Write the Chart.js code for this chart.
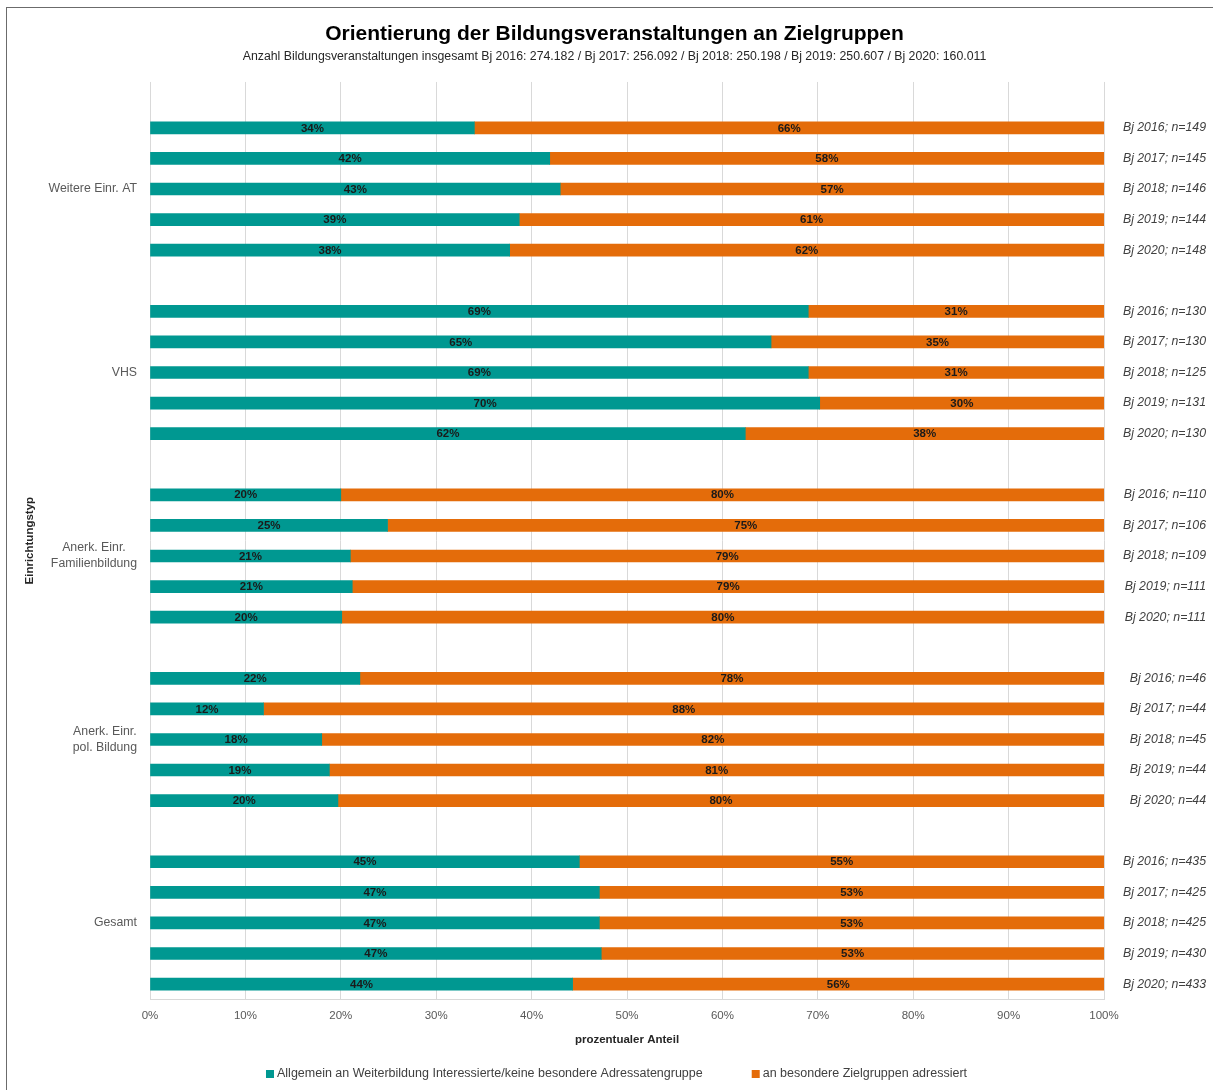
<!DOCTYPE html>
<html lang="de">
<head>
<meta charset="UTF-8">
<title>Orientierung der Bildungsveranstaltungen an Zielgruppen</title>
<script src="https://cdn.jsdelivr.net/npm/chart.js"></script>
<style>
    html, body { margin: 0; padding: 0; background: #fff; overflow: hidden; }
    .frame { position: absolute; left: 6px; top: 7px; width: 1240px; height: 1120px; border: 1px solid #6b6b6b; box-sizing: border-box; }
    #zielgruppenChart { position: absolute; left: 6px; top: 0; }
</style>
</head>
<body>
<div class="frame"></div>
<canvas id="zielgruppenChart" width="1213" height="1090"></canvas>

<script>
// Einrichtungstypen (mehrzeilige Beschriftung als Array)
const gruppen = [
    'Weitere Einr. AT',
    'VHS',
    ['Anerk. Einr.', 'Familienbildung'],
    ['Anerk. Einr.', 'pol. Bildung'],
    'Gesamt'
];
const jahre = ['Bj 2016', 'Bj 2017', 'Bj 2018', 'Bj 2019', 'Bj 2020'];

// Anteil "Allgemein an Weiterbildung Interessierte" in %, je Gruppe 2016..2020
const allgemein = [
    [34.0, 41.9, 43.0, 38.7, 37.7],
    [69.0, 65.1, 69.0, 70.2, 62.4],
    [20.0, 24.9, 21.0, 21.2, 20.1],
    [22.0, 11.9, 18.0, 18.8, 19.7],
    [45.0, 47.1, 47.1, 47.3, 44.3]
];
// Anteil "an besondere Zielgruppen adressiert" in %
const zielgruppen = [
    [66.0, 58.1, 57.0, 61.3, 62.3],
    [31.0, 34.9, 31.0, 29.8, 37.6],
    [80.0, 75.1, 79.0, 78.8, 79.9],
    [78.0, 88.1, 82.0, 81.2, 80.3],
    [55.0, 52.9, 52.9, 52.7, 55.7]
];
// Anzahl Einrichtungen (n)
const anzahlN = [
    [149, 145, 146, 144, 148],
    [130, 130, 125, 131, 130],
    [110, 106, 109, 111, 111],
    [46, 44, 45, 44, 44],
    [435, 425, 425, 430, 433]
];
const prozentTicks = ['0%', '10%', '20%', '30%', '40%', '50%', '60%', '70%', '80%', '90%', '100%'];
const legendeTexte = [
    'Allgemein an Weiterbildung Interessierte/keine besondere Adressatengruppe',
    'an besondere Zielgruppen adressiert'
];

const FONT = "'Liberation Sans', Arial, sans-serif";
const TEAL = '#009891';
const ORANGE = '#E46C0A';

// je Gruppe eine Leerzeile davor, dann die 5 Jahre
const zeilen = [];
gruppen.forEach((g, gi) => {
    zeilen.push(null);
    jahre.forEach((j, ji) => zeilen.push({ gi: gi, ji: ji }));
});
const kategorien = zeilen.map(z => z ? jahre[z.ji] + '; n=' + anzahlN[z.gi][z.ji] : '');
const datenAllgemein = zeilen.map(z => z ? allgemein[z.gi][z.ji] : null);
const datenZiel = zeilen.map(z => z ? zielgruppen[z.gi][z.ji] : null);

// Gruppennamen links (zentriert auf den mittleren Balken) und Jahr/n rechts
const seitenLabels = {
    id: 'seitenLabels',
    afterDraw(chart) {
        const ctx = chart.ctx;
        const y = chart.scales.y;
        const area = chart.chartArea;
        ctx.save();
        ctx.textBaseline = 'middle';

        ctx.font = '12.3px ' + FONT;
        ctx.fillStyle = '#595959';
        ctx.textAlign = 'center';
        gruppen.forEach((g, gi) => {
            const zeilenText = Array.isArray(g) ? g : [g];
            const breite = Math.max(...zeilenText.map(t => ctx.measureText(t).width));
            const cx = area.left - 13 - breite / 2;
            const mitte = y.getPixelForValue(gi * 6 + 3);
            zeilenText.forEach((t, k) => {
                ctx.fillText(t, cx, mitte + (k - (zeilenText.length - 1) / 2) * 16);
            });
        });

        ctx.font = 'italic 12.3px ' + FONT;
        ctx.fillStyle = '#404040';
        ctx.textAlign = 'right';
        kategorien.forEach((t, i) => {
            if (!t) return;
            ctx.fillText(t, area.right + 102, y.getPixelForValue(i));
        });
        ctx.restore();
    }
};

// Prozentwerte in den Balken
const balkenWerte = {
    id: 'balkenWerte',
    afterDatasetsDraw(chart) {
        const ctx = chart.ctx;
        ctx.save();
        ctx.font = 'bold 11.5px ' + FONT;
        ctx.fillStyle = '#1a1a1a';
        ctx.textAlign = 'center';
        ctx.textBaseline = 'middle';
        chart.data.datasets.forEach((ds, di) => {
            const meta = chart.getDatasetMeta(di);
            meta.data.forEach((bar, i) => {
                const v = ds.data[i];
                if (v === null) return;
                ctx.fillText(Math.round(v) + '%', (bar.x + bar.base) / 2, bar.y + 0.5);
            });
        });
        ctx.restore();
    }
};

// Legende unten
const legendeUnten = {
    id: 'legendeUnten',
    afterDraw(chart) {
        const ctx = chart.ctx;
        ctx.save();
        ctx.font = '12.5px ' + FONT;
        ctx.textBaseline = 'middle';
        const box = 8, gap = 3, abstand = 49;
        const breiten = legendeTexte.map(t => ctx.measureText(t).width);
        const gesamt = breiten.reduce((a, b) => a + b, 0) + legendeTexte.length * (box + gap) + abstand;
        let x = chart.width / 2 - gesamt / 2 + 4;
        const y = 1074;
        legendeTexte.forEach((t, i) => {
            ctx.fillStyle = chart.data.datasets[i].backgroundColor;
            ctx.fillRect(x, y - box / 2, box, box);
            x += box + gap;
            ctx.fillStyle = '#404040';
            ctx.textAlign = 'left';
            ctx.fillText(t, x, y);
            x += breiten[i] + abstand;
        });
        ctx.restore();
    }
};

Chart.defaults.font.family = FONT;

new Chart(document.getElementById('zielgruppenChart').getContext('2d'), {
    type: 'bar',
    data: {
        labels: kategorien,
        datasets: [
            {
                label: legendeTexte[0],
                data: datenAllgemein,
                backgroundColor: TEAL,
                barThickness: 12
            },
            {
                label: legendeTexte[1],
                data: datenZiel,
                backgroundColor: ORANGE,
                barThickness: 12
            }
        ]
    },
    options: {
        indexAxis: 'y',
        responsive: false,
        animation: false,
        layout: {
            padding: { left: 4, right: 0, top: 0, bottom: 39 }
        },
        plugins: {
            legend: { display: false },
            tooltip: { enabled: false },
            title: {
                display: true,
                text: 'Orientierung der Bildungsveranstaltungen an Zielgruppen',
                color: '#000',
                font: { size: 21, weight: 'bold' },
                padding: { top: 22, bottom: 0 }
            },
            subtitle: {
                display: true,
                text: 'Anzahl Bildungsveranstaltungen insgesamt Bj 2016: 274.182 / Bj 2017: 256.092 / Bj 2018: 250.198 / Bj 2019: 250.607 / Bj 2020: 160.011',
                color: '#262626',
                font: { size: 12.3 },
                padding: { top: 2.4, bottom: 17.6 }
            }
        },
        scales: {
            x: {
                stacked: true,
                min: 0,
                max: 100,
                ticks: {
                    stepSize: 10,
                    color: '#595959',
                    font: { size: 11.5 },
                    padding: 10,
                    callback: (v, i) => prozentTicks[i]
                },
                grid: { color: '#d9d9d9', drawTicks: false },
                border: { color: '#d9d9d9' },
                title: {
                    display: true,
                    text: 'prozentualer Anteil',
                    color: '#262626',
                    font: { size: 11.5, weight: 'bold' },
                    padding: { top: 0, bottom: 4 }
                }
            },
            y: {
                stacked: true,
                ticks: { display: false },
                grid: { display: false, drawTicks: false },
                border: { display: false },
                afterFit: s => { s.width = 140; },
                title: {
                    display: true,
                    text: 'Einrichtungstyp',
                    color: '#262626',
                    font: { size: 11.5, weight: 'bold' },
                    padding: { top: 13, bottom: 0 }
                }
            },
            // rechte Achse nur als Platz fuer "Bj ...; n=..." (Text per Plugin)
            yRechts: {
                type: 'category',
                position: 'right',
                offset: true,
                ticks: { display: false },
                grid: { display: false, drawTicks: false },
                border: { display: false },
                afterFit: s => { s.width = 115; }
            }
        }
    },
    plugins: [seitenLabels, balkenWerte, legendeUnten]
});
</script>
</body>
</html>
